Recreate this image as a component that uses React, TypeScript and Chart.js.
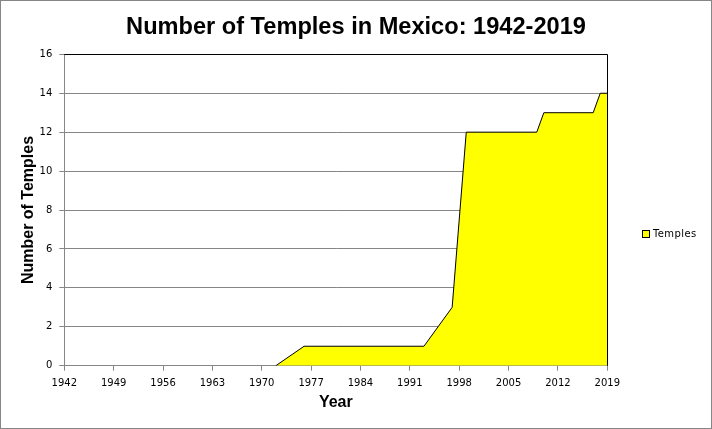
import { useEffect, useRef } from "react";
import Chart from "chart.js/auto";

const years = [1942, 1972, 1976, 1993, 1997, 1999, 2009, 2010, 2017, 2018, 2019];
const temples = [0, 0, 1, 1, 3, 12, 12, 13, 13, 14, 14];
const yearTicks = [1942, 1949, 1956, 1963, 1970, 1977, 1984, 1991, 1998, 2005, 2012, 2019];
const seriesLabel = "Temples";

const GRAY = "#868686";

// plot frame (black top + right edges) and the Excel-style legend on the right
const framePlugin = {
  id: "frame",
  afterDatasetsDraw(c: any) {
    const { ctx, chartArea } = c;
    ctx.save();
    ctx.strokeStyle = "#000";
    ctx.lineWidth = 1;
    ctx.beginPath();
    ctx.moveTo(chartArea.left, Math.round(chartArea.top) + 0.5);
    ctx.lineTo(Math.round(chartArea.right) + 0.5, Math.round(chartArea.top) + 0.5);
    ctx.lineTo(Math.round(chartArea.right) + 0.5, chartArea.bottom);
    ctx.stroke();
    ctx.restore();
  },
  afterDraw(c: any) {
    const { ctx } = c;
    const ds = c.data.datasets[0];
    ctx.save();
    ctx.fillStyle = ds.backgroundColor;
    ctx.fillRect(641, 229, 7, 7);
    ctx.strokeStyle = "#000";
    ctx.strokeRect(641.5, 229.5, 7, 7);
    ctx.fillStyle = "#000";
    ctx.font = "10px 'DejaVu Sans'";
    (ctx as any).letterSpacing = "0.4px";
    ctx.textBaseline = "middle";
    ctx.fillText(ds.label, 652, 233);
    ctx.restore();
  },
};

export default function App() {
  const canvasRef = useRef<HTMLCanvasElement | null>(null);

  useEffect(() => {
    document.body.style.margin = "0";
    const el = canvasRef.current;
    if (!el) return;

    const c = new Chart(el, {
      type: "line",
      data: {
        datasets: [
          {
            label: seriesLabel,
            data: years.map((y, i) => ({ x: y, y: temples[i] })),
            backgroundColor: "#FFFF00",
            borderColor: "#000",
            borderWidth: 1,
            fill: "origin",
            tension: 0,
            pointRadius: 0,
            segment: {
              borderColor: (s: any) => (s.p0.parsed.y === 0 && s.p1.parsed.y === 0 ? "transparent" : "#000"),
            },
          },
        ],
      },
      options: {
        responsive: false,
        animation: false,
        layout: { padding: 0 },
        plugins: {
          legend: { display: false },
          tooltip: { enabled: false },
          title: {
            display: true,
            text: "Number of Temples in Mexico: 1942-2019",
            color: "#000",
            font: { family: "'Liberation Sans', Arial", size: 23.6, weight: "bold" },
            padding: { top: 12, bottom: 13 },
          },
        },
        scales: {
          x: {
            type: "linear",
            min: 1942,
            max: 2019,
            afterBuildTicks: (s: any) => {
              s.ticks = yearTicks.map((v) => ({ value: v }));
            },
            afterFit: (s: any) => {
              s.height = 62.3;
            },
            ticks: {
              color: "#000",
              font: { family: "'DejaVu Sans'", size: 10 },
              padding: 7,
              maxRotation: 0,
              autoSkip: false,
              callback: (v: any) => String(v),
            },
            grid: { drawOnChartArea: false, color: GRAY, tickLength: 5 },
            border: { color: GRAY },
            title: {
              display: true,
              text: "Year",
              color: "#000",
              font: { family: "'Liberation Sans', Arial", size: 16, weight: "bold" },
              padding: { top: 0, bottom: 15.4 },
            },
          },
          y: {
            min: 0,
            max: 16,
            afterFit: (s: any) => {
              s.width = 63.3;
            },
            ticks: {
              stepSize: 2,
              color: "#000",
              font: { family: "'DejaVu Sans'", size: 10 },
              padding: 7,
            },
            grid: { color: GRAY, tickLength: 5 },
            border: { color: GRAY },
            title: {
              display: true,
              text: "Number of Temples",
              color: "#000",
              font: { family: "'Liberation Sans', Arial", size: 16, weight: "bold" },
              padding: { top: 18, bottom: 0 },
            },
          },
          // empty right-hand box that leaves room for the legend
          legendSpace: {
            position: "right",
            display: true,
            afterFit: (s: any) => {
              s.width = 103.7;
            },
            ticks: { display: false },
            grid: { display: false, drawOnChartArea: false, drawTicks: false },
            border: { display: false },
          },
        },
      },
      plugins: [framePlugin],
    });

    return () => c.destroy();
  }, []);

  return (
    <div
      style={{
        position: "absolute",
        left: 0,
        top: 0,
        width: 712,
        height: 429,
        boxSizing: "border-box",
        border: `1px solid ${GRAY}`,
        background: "#fff",
      }}
    >
      <canvas ref={canvasRef} width={710} height={427} style={{ display: "block" }} />
    </div>
  );
}
